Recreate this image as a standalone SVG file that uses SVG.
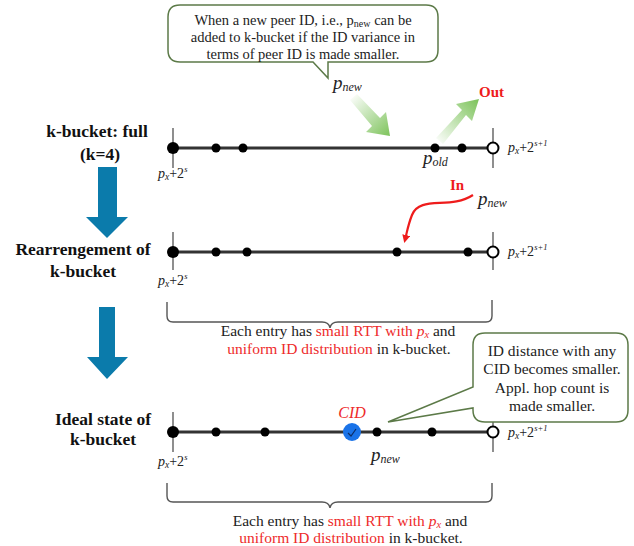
<svg xmlns="http://www.w3.org/2000/svg" width="634" height="546" viewBox="0 0 634 546" font-family="Liberation Serif, serif">
  <style>
    .body { font-size: 14.5px; fill: #222; }
    .note { font-size: 15.5px; fill: #222; }
    .red { fill: #ee2b2b; }
    .lbl { font-size: 17.5px; font-weight: bold; fill: #111; text-anchor: middle; }
    .math { font-style: italic; fill: #222; }
    .bar { stroke: #333; stroke-width: 3.2; fill: none; }
    .tick { stroke: #444; stroke-width: 1.2; fill: none; }
    .dot { fill: #000; }
    .open { fill: #fff; stroke: #000; stroke-width: 2; }
    .callout { fill: #fff; stroke: #5c7a48; stroke-width: 1.5; }
    .brace { fill: none; stroke: #555; stroke-width: 1.4; }
    .step { fill: #0b7bab; }
  </style>
  <defs>
    <linearGradient id="inGrad" x1="353" y1="97" x2="390" y2="136" gradientUnits="userSpaceOnUse">
      <stop offset="0" stop-color="#7dc35b" stop-opacity="0.05"/>
      <stop offset="1" stop-color="#7dc35b"/>
    </linearGradient>
    <linearGradient id="outGrad" x1="438" y1="141" x2="479" y2="100" gradientUnits="userSpaceOnUse">
      <stop offset="0" stop-color="#7dc35b" stop-opacity="0.05"/>
      <stop offset="1" stop-color="#7dc35b"/>
    </linearGradient>
    <marker id="redHead" markerWidth="8" markerHeight="8" refX="5" refY="4" orient="auto" markerUnits="userSpaceOnUse">
      <path d="M0,0 L8,4 L0,8 Z" fill="#ee1c1c"/>
    </marker>
  </defs>

  <!-- stage labels on the left -->
  <g id="label-full">
    <text class="lbl" x="97" y="137">k-bucket: full</text>
    <text class="lbl" x="100" y="160">(k=4)</text>
  </g>
  <g id="label-rearrange">
    <text class="lbl" x="83" y="255">Rearrengement of</text>
    <text class="lbl" x="83" y="277">k-bucket</text>
  </g>
  <g id="label-ideal">
    <text class="lbl" x="103" y="425">Ideal state of</text>
    <text class="lbl" x="103" y="445">k-bucket</text>
  </g>

  <!-- step arrows -->
  <g id="step-1">
    <path class="step" d="M98,167 H117 V217 H128 L107,238 L86,217 H98 Z"/>
  </g>
  <g id="step-2">
    <path class="step" d="M99,307 H115 V357 H128 L107,379 L87,357 H99 Z"/>
  </g>

  <!-- bucket 1: full -->
  <g id="bucket-full">
    <line class="tick" x1="173" y1="128" x2="173" y2="168"/>
    <line class="tick" x1="493" y1="128" x2="493" y2="168"/>
    <line class="bar" x1="173" y1="148" x2="493" y2="148"/>
    <circle class="dot" cx="173" cy="148" r="6"/>
    <circle class="dot" cx="216" cy="148" r="4.5"/>
    <circle class="dot" cx="243" cy="148" r="4.5"/>
    <circle class="dot" cx="435" cy="148" r="4.5"/>
    <circle class="dot" cx="462" cy="148" r="4.5"/>
    <circle class="open" cx="493" cy="148" r="5.5"/>
    <text class="math" x="158" y="178" font-size="14">p<tspan font-size="9.5" dy="2">x</tspan><tspan font-style="normal" dy="-2">+2</tspan><tspan font-size="8.5" dy="-6">s</tspan></text>
    <text class="math" x="508" y="152" font-size="14">p<tspan font-size="9.5" dy="2">x</tspan><tspan font-style="normal" dy="-2">+2</tspan><tspan font-size="8.5" dy="-6">s+1</tspan></text>
    <text class="math" x="423" y="164" font-size="19">p<tspan font-size="12" dy="2">old</tspan></text>
  </g>

  <!-- bucket 2: rearranged -->
  <g id="bucket-rearranged">
    <line class="tick" x1="173" y1="232" x2="173" y2="270"/>
    <line class="tick" x1="493" y1="232" x2="493" y2="270"/>
    <line class="bar" x1="173" y1="252" x2="493" y2="252"/>
    <circle class="dot" cx="173" cy="252" r="6"/>
    <circle class="dot" cx="216" cy="252" r="4.5"/>
    <circle class="dot" cx="247" cy="252" r="4.5"/>
    <circle class="dot" cx="397" cy="252" r="4.5"/>
    <circle class="dot" cx="468" cy="252" r="4.5"/>
    <circle class="open" cx="493" cy="252" r="5.5"/>
    <text class="math" x="158" y="285" font-size="14">p<tspan font-size="9.5" dy="2">x</tspan><tspan font-style="normal" dy="-2">+2</tspan><tspan font-size="8.5" dy="-6">s</tspan></text>
    <text class="math" x="508" y="256" font-size="14">p<tspan font-size="9.5" dy="2">x</tspan><tspan font-style="normal" dy="-2">+2</tspan><tspan font-size="8.5" dy="-6">s+1</tspan></text>
    <text x="450" y="190" font-size="15" font-weight="bold" fill="#ee1c1c">In</text>
    <text class="math" x="478" y="205" font-size="19">p<tspan font-size="12" dy="2">new</tspan></text>
  </g>

  <!-- bucket 3: ideal state -->
  <g id="bucket-ideal">
    <line class="tick" x1="173" y1="412" x2="173" y2="452"/>
    <line class="tick" x1="493" y1="412" x2="493" y2="452"/>
    <line class="bar" x1="173" y1="432" x2="493" y2="432"/>
    <circle class="dot" cx="173" cy="432" r="6"/>
    <circle class="dot" cx="216" cy="432" r="4.5"/>
    <circle class="dot" cx="265" cy="432" r="4.5"/>
    <circle cx="352" cy="432" r="9" fill="#1a73e8"/>
    <path d="M348,433 L351,436 L356,429" fill="none" stroke="#0c2d66" stroke-width="1.2"/>
    <circle class="dot" cx="377" cy="432" r="4.5"/>
    <circle class="dot" cx="432" cy="432" r="4.5"/>
    <circle class="open" cx="493" cy="432" r="5.5"/>
    <text class="math" x="158" y="466" font-size="14">p<tspan font-size="9.5" dy="2">x</tspan><tspan font-style="normal" dy="-2">+2</tspan><tspan font-size="8.5" dy="-6">s</tspan></text>
    <text class="math" x="508" y="437" font-size="14">p<tspan font-size="9.5" dy="2">x</tspan><tspan font-style="normal" dy="-2">+2</tspan><tspan font-size="8.5" dy="-6">s+1</tspan></text>
    <text class="math" x="352" y="418" font-size="16" text-anchor="middle" style="fill:#ee2b2b">CID</text>
    <text class="math" x="371" y="461" font-size="19">p<tspan font-size="12" dy="2">new</tspan></text>
  </g>

  <!-- top callout -->
  <g id="callout-top">
    <path class="callout" d="M180,5 H426 Q438,5 438,17 V50 Q438,62 426,62 H328 V78 L313,62 H180 Q168,62 168,50 V17 Q168,5 180,5 Z"/>
    <text class="body" x="303" y="25" text-anchor="middle">When a new peer ID, i.e., p<tspan font-size="10" dy="2">new</tspan><tspan dy="-2"> can be</tspan></text>
    <text class="body" x="303" y="42" text-anchor="middle">added to k-bucket if the ID variance in</text>
    <text class="body" x="303" y="59" text-anchor="middle">terms of peer ID is made smaller.</text>
    <text class="math" x="333" y="89" font-size="19">p<tspan font-size="12" dy="2">new</tspan></text>
  </g>

  <!-- right callout -->
  <g id="callout-right">
    <path class="callout" d="M485,333 H616 Q628,333 628,345 V410 Q628,422 616,422 H485 Q473,422 473,410 V408 L388,422 L473,387 V345 Q473,333 485,333 Z"/>
    <text class="note" x="552" y="356" text-anchor="middle">ID distance with any</text>
    <text class="note" x="552" y="374" text-anchor="middle">CID becomes smaller.</text>
    <text class="note" x="552" y="393" text-anchor="middle">Appl. hop count is</text>
    <text class="note" x="552" y="411" text-anchor="middle">made smaller.</text>
  </g>

  <!-- braces and their notes -->
  <g id="brace-1">
    <path class="brace" d="M167,302 V316 Q167,322 173,322 H322 Q329,322 330,328 Q331,322 338,322 H486 Q492,322 492,316 V300"/>
    <text class="note" x="338" y="336" text-anchor="middle">Each entry has <tspan class="red">small RTT with </tspan><tspan class="red" font-style="italic">p</tspan><tspan class="red" font-style="italic" font-size="10.5" dy="2">x</tspan><tspan dy="-2"> and</tspan></text>
    <text class="note" x="339" y="354" text-anchor="middle"><tspan class="red">uniform ID distribution</tspan> in k-bucket.</text>
  </g>
  <g id="brace-2">
    <path class="brace" d="M167,483 V496 Q167,502 173,502 H322 Q329,502 330,508 Q331,502 338,502 H486 Q492,502 492,496 V483"/>
    <text class="note" x="350" y="526" text-anchor="middle">Each entry has <tspan class="red">small RTT with </tspan><tspan class="red" font-style="italic">p</tspan><tspan class="red" font-style="italic" font-size="10.5" dy="2">x</tspan><tspan dy="-2"> and</tspan></text>
    <text class="note" x="351" y="543" text-anchor="middle"><tspan class="red">uniform ID distribution</tspan> in k-bucket.</text>
  </g>

  <!-- connectors -->
  <g id="connectors">
    <path d="M350,100 L357,94 L380,118 L386,112 L390,136 L366,132 L372,126 Z" fill="url(#inGrad)"/>
    <path d="M436,138 L443,144 L466,115 L472,121 L479,99 L456,104 L462,110 Z" fill="url(#outGrad)"/>
    <text x="479" y="97" font-size="15" font-weight="bold" fill="#ee1c1c">Out</text>
    <path d="M473,195 C450,210 420,195 412,215 C408,225 407,232 405,240" fill="none" stroke="#ee1c1c" stroke-width="2.2" marker-end="url(#redHead)"/>
  </g>
</svg>
